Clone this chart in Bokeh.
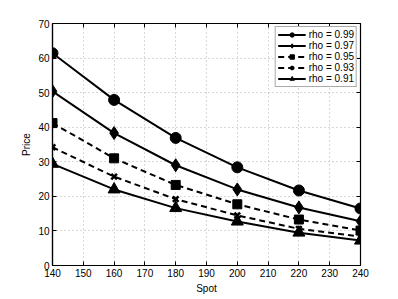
from bokeh.plotting import figure
from bokeh.models import Range1d, LinearAxis, Legend, LegendItem, FixedTicker
from bokeh.embed import file_html
from bokeh.resources import INLINE

spot = [140, 160, 180, 200, 220, 240]
rho_labels = ["rho = 0.99", "rho = 0.97", "rho = 0.95", "rho = 0.93", "rho = 0.91"]
price_099 = [61.4, 47.9, 36.9, 28.4, 21.7, 16.5]
price_097 = [50.4, 38.3, 29.0, 22.0, 16.8, 12.8]
price_095 = [41.2, 31.0, 23.3, 17.7, 13.3, 10.1]
price_093 = [34.2, 25.7, 19.2, 14.5, 10.6, 8.4]
price_091 = [29.4, 22.0, 16.6, 12.7, 9.5, 7.2]
x_ticks = [140, 150, 160, 170, 180, 190, 200, 210, 220, 230, 240]
y_ticks = [0, 10, 20, 30, 40, 50, 60, 70]

FONT = "Liberation Sans"

p = figure(width=396, height=297, output_backend="svg", toolbar_location=None,
           x_range=Range1d(140, 240), y_range=Range1d(0, 70),
           min_border_left=52, min_border_right=36, min_border_top=23, min_border_bottom=32)
p.background_fill_color = "white"
p.border_fill_color = "white"
p.outline_line_color = "black"
p.outline_line_width = 1.2

for ax in (p.xaxis[0], p.yaxis[0]):
    ax.major_tick_in = 4
    ax.major_tick_out = 0
    ax.minor_tick_in = 0
    ax.minor_tick_out = 0
    ax.axis_line_color = "black"
    ax.axis_line_width = 1.2
    ax.major_label_text_font = FONT
    ax.major_label_text_font_size = "10px"
    ax.major_label_text_color = "black"
    ax.axis_label_text_font = FONT
    ax.axis_label_text_font_size = "10px"
    ax.axis_label_text_font_style = "normal"
    ax.axis_label_text_color = "black"
    ax.major_label_standoff = 3
    ax.axis_label_standoff = 3

p.xaxis[0].ticker = FixedTicker(ticks=x_ticks)
p.yaxis[0].ticker = FixedTicker(ticks=y_ticks)
p.xaxis[0].axis_label = "Spot"
p.yaxis[0].axis_label = "Price"

for loc, tks in (("above", x_ticks), ("right", y_ticks)):
    ax = LinearAxis(ticker=FixedTicker(ticks=tks))
    ax.major_tick_in = 4
    ax.major_tick_out = 0
    ax.minor_tick_in = 0
    ax.minor_tick_out = 0
    ax.major_label_overrides = {t: "" for t in tks}
    ax.major_label_standoff = 0
    ax.axis_line_color = "black"
    p.add_layout(ax, loc)

p.xgrid.ticker = FixedTicker(ticks=x_ticks)
p.ygrid.ticker = FixedTicker(ticks=y_ticks)
for g in (p.xgrid[0], p.ygrid[0]):
    g.grid_line_color = "#b0b0b0"
    g.grid_line_dash = "1 3"
    g.grid_line_width = 1

series = [
    (price_099, "solid", "circle", 11),
    (price_097, "solid", "diamond", 13),
    (price_095, "6 4", "square", 9),
    (price_093, "6 4", "x", 8),
    (price_091, "solid", "triangle", 12),
]

items = []
for (vals, dash, marker, size), lab in zip(series, rho_labels):
    l = p.line(spot, vals, line_color="black", line_width=2, line_dash=dash)
    kw = dict(line_color="black", fill_color="black")
    if marker == "x":
        kw["line_width"] = 2.5
    s = p.scatter(spot, vals, marker=marker, size=size, **kw)
    items.append(LegendItem(label=lab, renderers=[l, s]))

legend = Legend(items=items, location="top_right")
legend.label_text_font = FONT
legend.label_text_font_size = "10px"
legend.label_text_color = "black"
legend.label_height = 10
legend.glyph_height = 11
legend.glyph_width = 28
legend.label_standoff = 3
legend.spacing = 0
legend.padding = 2
legend.margin = 3
legend.border_line_color = "#555555"
legend.border_line_width = 1.5
legend.background_fill_color = "white"
legend.background_fill_alpha = 1
p.add_layout(legend)

open("out.html", "w").write(file_html(p, INLINE))
